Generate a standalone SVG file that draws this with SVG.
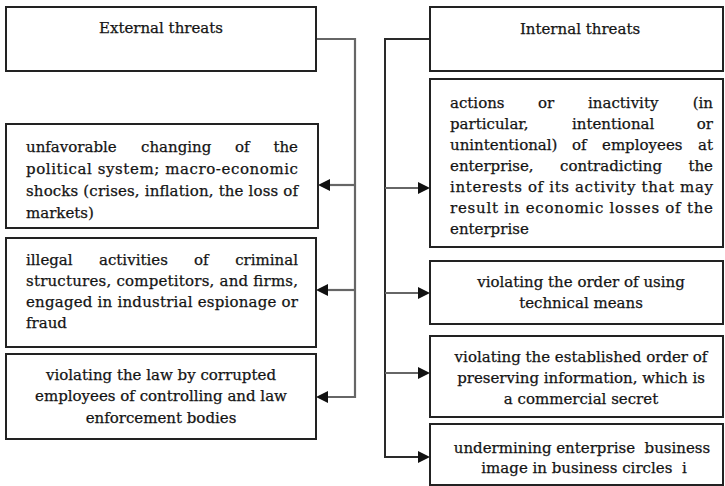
<svg xmlns="http://www.w3.org/2000/svg" width="725" height="486" viewBox="0 0 725 486">
  <defs>
    <style>
      .box { fill: #fff; stroke: #222; stroke-width: 2; }
      text { font-family: "DejaVu Serif", "Liberation Serif", serif; font-size: 15px; fill: #141414; stroke: #141414; stroke-width: 0.25; }
      .c { text-anchor: middle; }
      .r { text-anchor: end; }
      .wire { fill: none; stroke: #666; stroke-width: 2.2; }
      .wire-dark { fill: none; stroke: #2a2a2a; stroke-width: 2; }
    </style>
    <marker id="arrow" markerUnits="userSpaceOnUse" markerWidth="12" markerHeight="12" refX="12" refY="6" orient="auto">
      <path d="M0,0 L12,6 L0,12 Z" fill="#111"/>
    </marker>
  </defs>
  <rect width="725" height="486" fill="#fff"/>

  <!-- connectors -->
  <g id="connectors">
    <path class="wire" d="M316,39 H355 V397 H328"/>
    <line class="wire" x1="355" y1="185" x2="330" y2="185"/>
    <line class="wire" x1="355" y1="290" x2="328" y2="290"/>
    <line x1="335" y1="185" x2="318" y2="185" stroke="none" marker-end="url(#arrow)"/>
    <line x1="335" y1="290" x2="316" y2="290" stroke="none" marker-end="url(#arrow)"/>
    <line x1="335" y1="397" x2="316" y2="397" stroke="none" marker-end="url(#arrow)"/>

    <path class="wire-dark" d="M430,39 H385 V457 H420"/>
    <line class="wire" x1="385" y1="188" x2="420" y2="188"/>
    <line class="wire" x1="385" y1="293" x2="420" y2="293"/>
    <line class="wire" x1="385" y1="373" x2="420" y2="373"/>
    <line x1="410" y1="188" x2="430" y2="188" stroke="none" marker-end="url(#arrow)"/>
    <line x1="410" y1="293" x2="430" y2="293" stroke="none" marker-end="url(#arrow)"/>
    <line x1="410" y1="373" x2="430" y2="373" stroke="none" marker-end="url(#arrow)"/>
    <line x1="410" y1="457" x2="430" y2="457" stroke="none" marker-end="url(#arrow)"/>
  </g>

  <!-- external threats column -->
  <g id="external">
    <rect class="box" x="6" y="7" width="310" height="64"/>
    <text class="c" x="161" y="33">External threats</text>
  </g>

  <g id="ext-political">
    <rect class="box" x="6" y="124" width="312" height="104"/>
    <text x="26" y="152">unfavorable</text>
    <text x="141" y="152">changing</text>
    <text x="235" y="152">of</text>
    <text class="r" x="298" y="152">the</text>
    <text x="26" y="174" textLength="272" lengthAdjust="spacing">political system; macro-economic</text>
    <text x="26" y="196" textLength="272" lengthAdjust="spacing">shocks (crises, inflation, the loss of</text>
    <text x="26" y="218">markets)</text>
  </g>

  <g id="ext-criminal">
    <rect class="box" x="6" y="238" width="310" height="109"/>
    <text x="26" y="265">illegal</text>
    <text x="99" y="265">activities</text>
    <text x="194" y="265">of</text>
    <text class="r" x="298" y="265">criminal</text>
    <text x="26" y="286" textLength="272" lengthAdjust="spacing">structures, competitors, and firms,</text>
    <text x="26" y="307" textLength="272" lengthAdjust="spacing">engaged in industrial espionage or</text>
    <text x="26" y="328">fraud</text>
  </g>

  <g id="ext-corruption">
    <rect class="box" x="6" y="354" width="310" height="85"/>
    <text class="c" x="161" y="380">violating the law by corrupted</text>
    <text class="c" x="161" y="401">employees of controlling and law</text>
    <text class="c" x="161" y="423">enforcement bodies</text>
  </g>

  <!-- internal threats column -->
  <g id="internal">
    <rect class="box" x="430" y="7" width="293" height="64"/>
    <text class="c" x="580" y="34">Internal threats</text>
  </g>

  <g id="int-employees">
    <rect class="box" x="430" y="79" width="293" height="168"/>
    <text x="450" y="108">actions</text>
    <text x="538" y="108">or</text>
    <text x="588" y="108">inactivity</text>
    <text class="r" x="713" y="108">(in</text>
    <text x="450" y="129">particular,</text>
    <text x="572" y="129">intentional</text>
    <text class="r" x="713" y="129">or</text>
    <text x="450" y="150">unintentional)</text>
    <text x="572" y="150">of</text>
    <text x="602" y="150">employees</text>
    <text class="r" x="713" y="150">at</text>
    <text x="450" y="171">enterprise,</text>
    <text x="560" y="171">contradicting</text>
    <text class="r" x="713" y="171">the</text>
    <text x="450" y="192" textLength="263" lengthAdjust="spacing">interests of its activity that may</text>
    <text x="450" y="213" textLength="263" lengthAdjust="spacing">result in economic losses of the</text>
    <text x="450" y="234">enterprise</text>
  </g>

  <g id="int-technical">
    <rect class="box" x="430" y="261" width="293" height="63"/>
    <text class="c" x="581" y="287">violating the order of using</text>
    <text class="c" x="581" y="308">technical means</text>
  </g>

  <g id="int-secret">
    <rect class="box" x="430" y="336" width="293" height="81"/>
    <text class="c" x="581" y="362">violating the established order of</text>
    <text class="c" x="581" y="383">preserving information, which is</text>
    <text class="c" x="581" y="404">a commercial secret</text>
  </g>

  <g id="int-image">
    <rect class="box" x="430" y="424" width="293" height="61"/>
    <text class="c" x="582" y="453" xml:space="preserve">undermining enterprise  business</text>
    <text class="c" x="584" y="473" xml:space="preserve">image in business circles  i</text>
  </g>
</svg>
